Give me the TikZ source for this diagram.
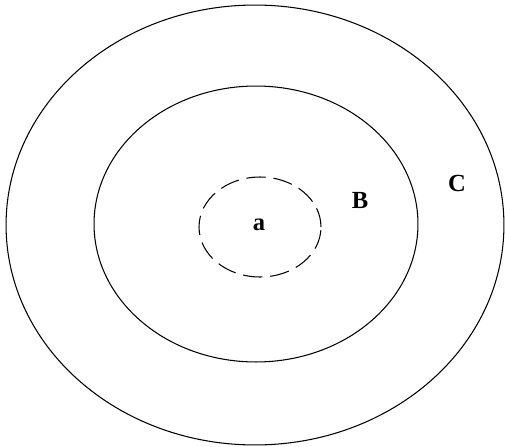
\documentclass[tikz,border=0pt]{standalone}
\usepackage{fontspec}
\setmainfont{Liberation Serif}
\usetikzlibrary{shapes.geometric}

\begin{document}
\begin{tikzpicture}[
  x=0.02cm, y=-0.02cm,
  ring/.style={draw, ellipse, line width=0.6pt, inner sep=0pt},
  lbl/.style={font=\fontsize{14}{16}\selectfont\bfseries, inner sep=0pt}
]
\useasboundingbox (0,0) rectangle (505,447);
% Rings — outer to inner
\node[ring, minimum width=9.96cm, minimum height=8.8cm]  (outer)  at (255,225) {};
\node[ring, minimum width=6.48cm, minimum height=5.52cm] (middle) at (256,224) {};
\node[ring, dash pattern=on 11pt off 4.5pt,
      minimum width=2.44cm, minimum height=2.0cm]        (inner)  at (260,227) {};

% Labels
\node[lbl] (la) at (259,225) {a};
\node[lbl] (lb) at (360,200) {B};
\node[lbl] (lc) at (457,183) {C};
\end{tikzpicture}
\end{document}
